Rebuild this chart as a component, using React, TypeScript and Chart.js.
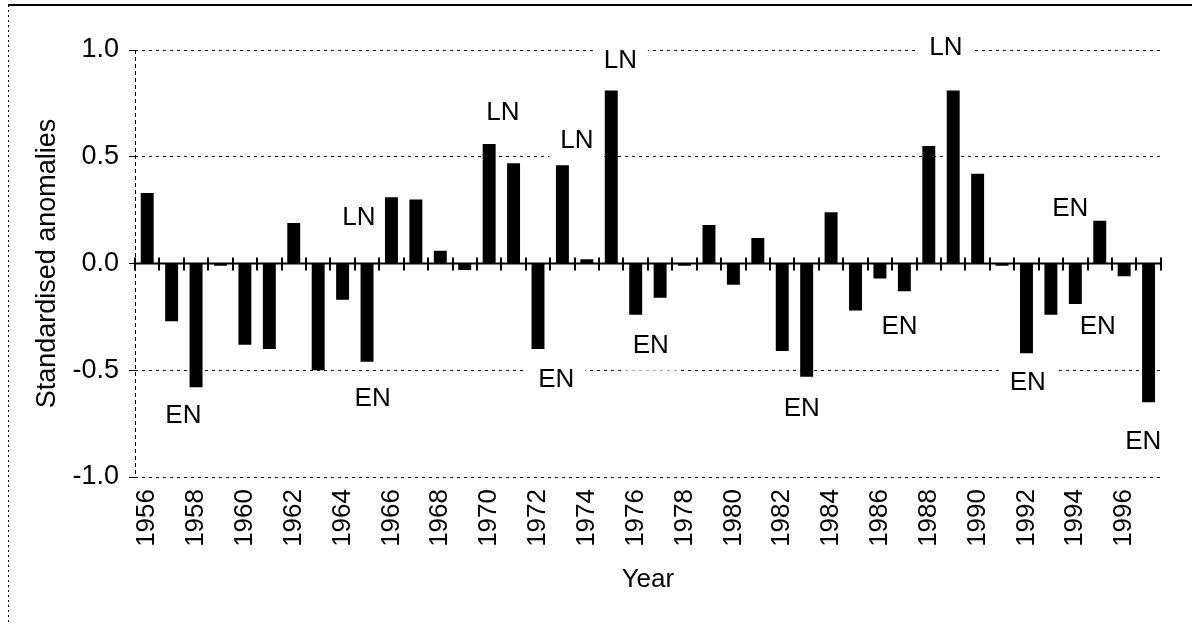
import { useEffect, useRef } from "react";
import { Chart, registerables } from "chart.js";

Chart.register(...registerables);

const years = [
  "1956", "1957", "1958", "1959", "1960", "1961", "1962", "1963", "1964", "1965",
  "1966", "1967", "1968", "1969", "1970", "1971", "1972", "1973", "1974", "1975",
  "1976", "1977", "1978", "1979", "1980", "1981", "1982", "1983", "1984", "1985",
  "1986", "1987", "1988", "1989", "1990", "1991", "1992", "1993", "1994", "1995",
  "1996", "1997",
];

const anomalies = [
  0.33, -0.27, -0.58, -0.01, -0.38, -0.4, 0.19, -0.5, -0.17, -0.46,
  0.31, 0.3, 0.06, -0.03, 0.56, 0.47, -0.4, 0.46, 0.02, 0.81,
  -0.24, -0.16, -0.01, 0.18, -0.1, 0.12, -0.41, -0.53, 0.24, -0.22,
  -0.07, -0.13, 0.55, 0.81, 0.42, -0.01, -0.42, -0.24, -0.19, 0.2,
  -0.06, -0.65,
];

const xTickLabels = [
  "1956", "1958", "1960", "1962", "1964", "1966", "1968", "1970", "1972", "1974",
  "1976", "1978", "1980", "1982", "1984", "1986", "1988", "1990", "1992", "1994",
  "1996",
];

const yTickValues = [-1.0, -0.5, 0.0, 0.5, 1.0];

// ENSO event annotations: label, position in (fractional) year and anomaly units
const eventLabels = ["EN", "LN", "EN", "LN", "LN", "EN", "LN", "EN", "EN", "EN", "LN", "EN", "EN", "EN", "EN"];
const eventYears = [1957.48, 1964.67, 1965.23, 1970.56, 1973.59, 1972.75, 1975.37, 1976.62, 1982.8, 1986.8, 1988.7, 1992.05, 1993.79, 1994.92, 1996.78];
const eventValues = [-0.71, 0.22, -0.63, 0.71, 0.58, -0.54, 0.955, -0.38, -0.675, -0.29, 1.015, -0.555, 0.26, -0.29, -0.83];

const FONT = "'Liberation Sans', Arial, Helvetica, sans-serif";

const overlayPlugin = {
  id: "overlay",
  beforeDraw(chart: any) {
    const { ctx, width, height } = chart;
    ctx.save();
    ctx.fillStyle = "#ffffff";
    ctx.fillRect(0, 0, width, height);
    // outer frame: solid top edge, dotted left edge
    ctx.strokeStyle = "#000";
    ctx.lineWidth = 2;
    ctx.beginPath();
    ctx.moveTo(8, 5);
    ctx.lineTo(width, 5);
    ctx.stroke();
    ctx.lineWidth = 1;
    ctx.setLineDash([2, 3]);
    ctx.beginPath();
    ctx.moveTo(8.5, 5);
    ctx.lineTo(8.5, height);
    ctx.stroke();
    ctx.restore();
  },
  beforeDatasetsDraw(chart: any) {
    const { ctx, chartArea } = chart;
    const x = chart.scales.x;
    const y = chart.scales.y;
    ctx.save();
    // dotted y axis line
    ctx.strokeStyle = "#000";
    ctx.lineWidth = 1;
    ctx.setLineDash([4, 3]);
    ctx.beginPath();
    ctx.moveTo(chartArea.left + 0.5, chartArea.top);
    ctx.lineTo(chartArea.left + 0.5, chartArea.bottom);
    ctx.stroke();
    ctx.setLineDash([]);
    // event labels on white boxes (hide grid lines behind them)
    ctx.font = `26px ${FONT}`;
    ctx.textAlign = "center";
    ctx.textBaseline = "middle";
    for (let i = 0; i < eventLabels.length; i++) {
      const px = x.getPixelForValue(eventYears[i] - 1956);
      const py = y.getPixelForValue(eventValues[i]);
      const w = ctx.measureText(eventLabels[i]).width + 22;
      const h = 52;
      ctx.fillStyle = "#ffffff";
      ctx.fillRect(px - w / 2, py - h / 2, w, h);
      ctx.fillStyle = "#000";
      ctx.fillText(eventLabels[i], px, py + 1);
    }
    ctx.restore();
  },
  afterDatasetsDraw(chart: any) {
    const { ctx, chartArea } = chart;
    const x = chart.scales.x;
    const y = chart.scales.y;
    const y0 = y.getPixelForValue(0);
    ctx.save();
    ctx.strokeStyle = "#000";
    ctx.lineWidth = 2;
    ctx.beginPath();
    ctx.moveTo(chartArea.left, y0);
    ctx.lineTo(chartArea.right, y0);
    ctx.stroke();
    ctx.beginPath();
    for (let i = 0; i <= years.length; i++) {
      const px = Math.round(x.getPixelForValue(i - 0.5));
      ctx.moveTo(px, y0 - 6);
      ctx.lineTo(px, y0 + 7);
    }
    ctx.stroke();
    ctx.restore();
  },
};

export default function App() {
  const canvasRef = useRef<HTMLCanvasElement | null>(null);

  useEffect(() => {
    const canvas = canvasRef.current;
    if (!canvas) return;
    const chart = new Chart(canvas, {
      type: "bar",
      data: {
        labels: years,
        datasets: [
          {
            label: "Standardised anomalies",
            data: anomalies,
            backgroundColor: "#000000",
            borderWidth: 0,
            categoryPercentage: 1,
            barPercentage: 0.53,
          },
        ],
      },
      options: {
        responsive: false,
        animation: false,
        devicePixelRatio: 1,
        layout: { padding: { left: 0, right: 17, top: 50, bottom: 0 } },
        plugins: {
          legend: { display: false },
          tooltip: { enabled: false },
        },
        scales: {
          x: {
            type: "category",
            offset: true,
            grid: { display: false, drawTicks: false },
            border: { display: false },
            ticks: {
              autoSkip: false,
              maxRotation: 90,
              minRotation: 90,
              padding: 12,
              color: "#000",
              font: { family: FONT, size: 26 },
              callback: (_v: any, idx: number) =>
                xTickLabels.includes(years[idx]) ? years[idx] : "",
            },
            title: {
              display: true,
              text: "Year",
              color: "#000",
              font: { family: FONT, size: 26 },
              padding: { top: 0, bottom: 29 },
            },
            afterFit: (scale: any) => {
              scale.height = 147;
            },
          },
          y: {
            min: -1,
            max: 1,
            afterBuildTicks: (scale: any) => {
              scale.ticks = yTickValues.map((v) => ({ value: v }));
            },
            grid: {
              color: "#111",
              lineWidth: 1,
              drawTicks: true,
              tickLength: 6,
              tickColor: "#000",
            },
            border: { display: false, dash: [3, 4] },
            ticks: {
              padding: 10,
              color: "#000",
              font: { family: FONT, size: 27 },
              callback: (v: any) => Number(v).toFixed(1),
            },
            title: {
              display: true,
              text: "Standardised anomalies",
              color: "#000",
              font: { family: FONT, size: 27 },
              padding: { top: 31, bottom: 0 },
            },
            afterFit: (scale: any) => {
              scale.width = 135;
            },
          },
        },
      },
      plugins: [overlayPlugin],
    });
    return () => chart.destroy();
  }, []);

  return (
    <div style={{ position: "absolute", left: 0, top: 0, width: 1192, height: 624, background: "#fff" }}>
      <canvas ref={canvasRef} width={1192} height={624} style={{ display: "block" }} />
    </div>
  );
}
